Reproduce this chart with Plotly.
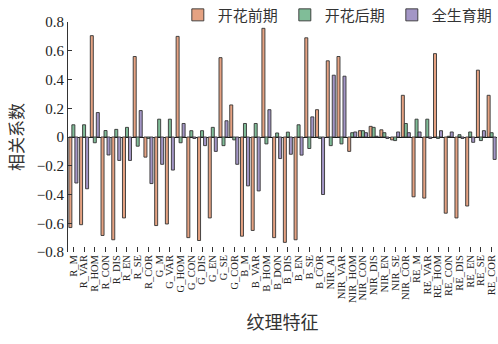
import plotly.graph_objects as go

categories = ["R_M","R_VAR","R_HOM","R_CON","R_DIS","R_EN","R_SE","R_COR",
              "G_M","G_VAR","G_HOM","G_CON","G_DIS","G_EN","G_SE","G_COR",
              "B_M","B_VAR","B_HOM","B_DON","B_DIS","B_EN","B_SE","B_COR",
              "NIR_AI","NIR_VAR","NIR_HOM","NIR_CON","NIR_DIS","NIR_EN","NIR_SE","NIR_COR",
              "RE_M","RE_VAR","RE_HOM","RE_CON","RE_DIS","RE_EN","RE_SE","RE_COR"]

pre_flowering = [-0.63, -0.61, 0.705, -0.685, -0.715, -0.563, 0.56, -0.14,
                 -0.616, -0.605, 0.70, -0.70, -0.72, -0.563, 0.552, 0.223,
                 -0.69, -0.65, 0.756, -0.70, -0.733, -0.715, 0.69, 0.19,
                 0.53, 0.56, -0.10, 0.044, 0.074, 0.05, -0.02, 0.29,
                 -0.416, -0.425, 0.58, -0.53, -0.563, -0.48, 0.465, 0.29]

post_flowering = [0.085, 0.085, -0.04, 0.045, 0.053, 0.067, -0.064, -0.01,
                  0.124, 0.124, -0.04, 0.044, 0.044, 0.067, -0.06, -0.02,
                  0.094, 0.094, -0.048, 0.028, 0.034, 0.085, -0.08, -0.01,
                  -0.06, -0.048, 0.03, 0.044, 0.067, 0.03, -0.025, 0.094,
                  0.124, 0.124, -0.01, 0.005, 0.016, 0.035, -0.025, 0.03]

whole_period = [-0.32, -0.36, 0.17, -0.125, -0.163, -0.163, 0.184, -0.324,
                -0.19, -0.23, 0.094, -0.01, -0.06, -0.10, 0.113, -0.19,
                -0.34, -0.375, 0.19, -0.15, -0.12, -0.126, 0.14, -0.40,
                0.43, 0.423, 0.035, 0.03, 0.005, -0.01, 0.035, 0.03,
                0.035, -0.01, 0.044, 0.035, -0.01, -0.037, 0.044, -0.156]

series_names = ["开花前期", "开花后期", "全生育期"]
colors = ["#E5A282", "#80BD98", "#A396C6"]

y_ticks = [-0.8, -0.6, -0.4, -0.2, 0, 0.2, 0.4, 0.6, 0.8]
y_tick_text = ["\u22120.8", "\u22120.6", "\u22120.4", "\u22120.2", "0", "0.2", "0.4", "0.6", "0.8"]

fig = go.Figure()
for name, vals, col in zip(series_names, [pre_flowering, post_flowering, whole_period], colors):
    fig.add_trace(go.Bar(x=categories, y=vals, name=name,
                         marker=dict(color=col, line=dict(color="#333333", width=0.9))))

serif = "Liberation Serif"
cjk = "Noto Sans CJK SC"

fig.update_layout(
    width=498, height=344,
    margin=dict(l=68, r=1, t=22, b=92, autoexpand=False),
    paper_bgcolor="white", plot_bgcolor="white",
    barmode="group", bargap=0.16, bargroupgap=0.0,
    showlegend=True,
    legend=dict(orientation="h", x=0.256, xanchor="left", y=1.03, yanchor="middle",
                font=dict(family=cjk, size=15, color="#333333"),
                bgcolor="rgba(0,0,0,0)", entrywidth=62, entrywidthmode="pixels",
                itemwidth=30, traceorder="normal"),
    xaxis=dict(type="category", tickmode="linear", tick0=0, dtick=1,
               tickangle=-90, showline=False, showgrid=False,
               ticks="inside", ticklen=5, tickcolor="#333333",
               tickfont=dict(family=serif, size=10.5, color="#222222"),
               title=dict(text="纹理特征", font=dict(family=cjk, size=18, color="#333333"), standoff=14)),
    yaxis=dict(range=[-0.8, 0.8], tickvals=y_ticks, ticktext=y_tick_text,
               showline=True, linecolor="#333333", linewidth=1, showgrid=False,
               ticks="inside", ticklen=4, tickcolor="#333333",
               zeroline=True, zerolinecolor="#111111", zerolinewidth=1.2,
               tickfont=dict(family=serif, size=15, color="#222222"),
               title=dict(text="相关系数", font=dict(family=cjk, size=17, color="#333333"), standoff=8)),
)

fig.write_html("out.html")
